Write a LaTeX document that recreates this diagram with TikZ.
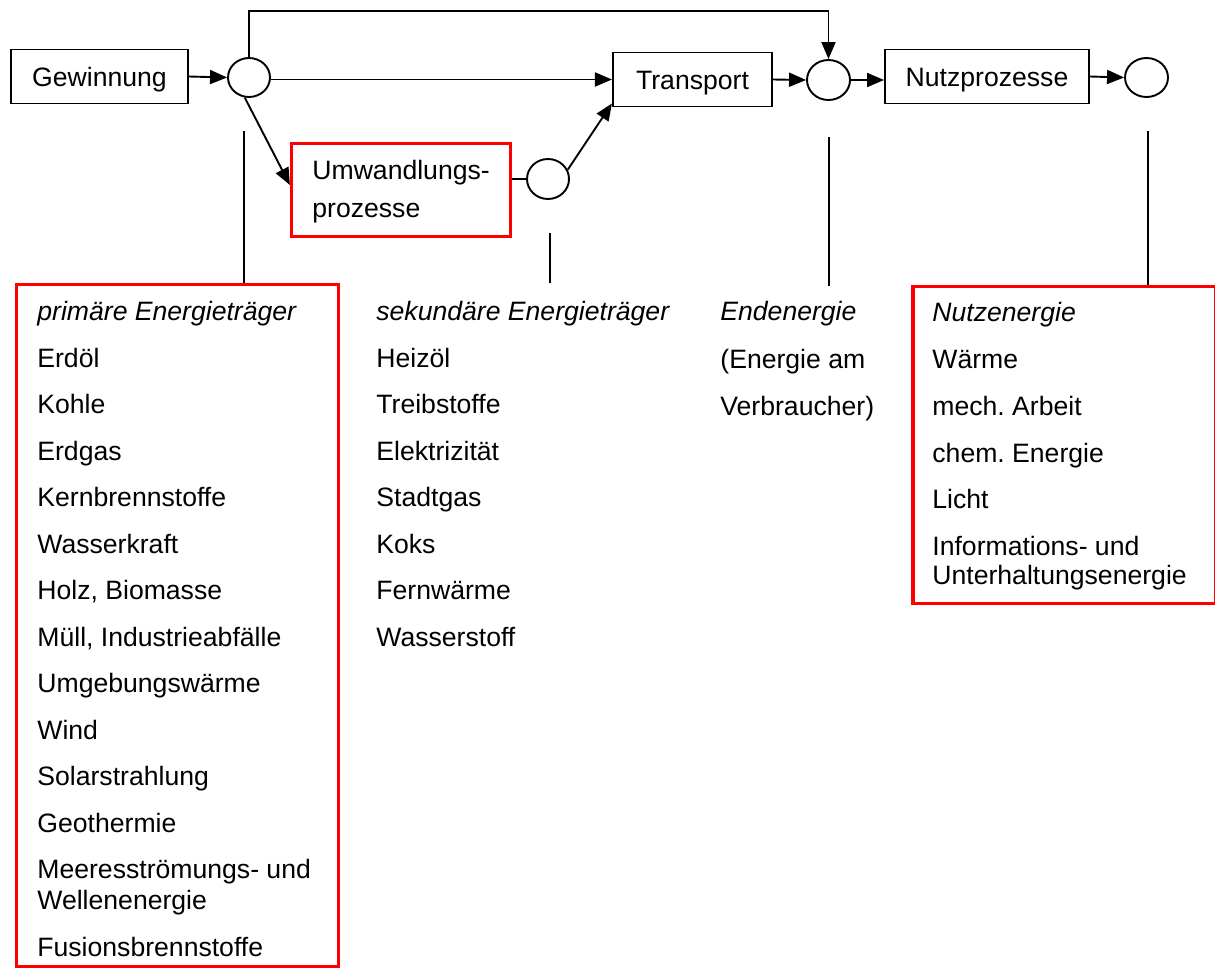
\documentclass[tikz,border=0pt]{standalone}
\usepackage{fontspec}
\setmainfont{Liberation Sans}
\usetikzlibrary{arrows.meta,shapes.geometric}
\frenchspacing
\begin{document}
\begin{tikzpicture}[x=0.5pt,y=-0.5pt,
  every node/.style={font=\fontsize{13.3pt}{16pt}\selectfont, inner sep=0pt},
  blackbox/.style={draw=black, line width=0.95pt, rectangle, text height=9.5pt, text depth=0pt},
  redbox/.style={draw=red, line width=1.7pt, rectangle},
  junction/.style={draw=black, line width=0.95pt, ellipse, minimum width=21pt, minimum height=19.5pt},
  conn/.style={line width=0.95pt},
  arr/.style={conn, -{Triangle[length=8.5pt,width=7pt]}},
  listtext/.style={anchor=base west},
  head/.style={anchor=base west, font=\fontsize{13.3pt}{16pt}\selectfont\itshape}
]
\useasboundingbox (0,0) rectangle (1215,969);

% process chain
\node[blackbox, minimum width=88.6pt, minimum height=27pt] (gew) at (99.5,76.5) {Gewinnung};
\node[junction] (c1) at (249,77.5) {};
\node[blackbox, minimum width=79.6pt, minimum height=27pt] (tr) at (692.5,79.5) {Transport};
\node[junction, minimum width=21.5pt, minimum height=20pt] (c3) at (828.5,80) {};
\node[blackbox, minimum width=102pt, minimum height=27pt] (nutz) at (987,76.5) {Nutzprozesse};
\node[junction, minimum width=21.5pt] (c4) at (1146.5,77.5) {};
\node[redbox, minimum width=109.4pt, minimum height=46.4pt] (umw) at (401,190) {};
\node[listtext] (umw1) at (312,179) {Umwandlungs-};
\node[listtext] (umw2) at (312,217) {prozesse};
\node[junction, minimum height=20pt] (c2) at (548,179) {};

\coordinate (top) at (0,11);
\draw[arr] (gew.east) -- (c1.west);
\draw[arr] (c1.north) -- (c1.north |- top) -| (c3.north);
\draw[arr] (c1.east |- tr.west) -- (tr.west);
\draw[arr] (c1.258) -- ([yshift=2.5pt]umw.west);
\draw[conn] (c2.west -| umw.east) -- (c2.west);
\draw[arr] (c2.25) -- ([yshift=2pt]tr.south west);
\draw[arr] (tr.east) -- (c3.west);
\draw[arr] (c3.east) -- (c3.east -| nutz.west);
\draw[arr] (nutz.east) -- (c4.west);

% red list boxes
\node[redbox, minimum width=160.9pt, minimum height=340.9pt] (prim) at (177.5,625.5) {};
\node[redbox, minimum width=151.2pt, minimum height=158.4pt] (nutzE) at (1064,445) {};

% vertical lines
\coordinate (v1) at (244,131);
\draw[conn] (v1) -- (v1 |- prim.north);
\coordinate (v2a) at (550,233);
\coordinate (v2b) at (550,283);
\draw[conn] (v2a) -- (v2b);
\coordinate (v3a) at (829,137);
\coordinate (v3b) at (829,286);
\draw[conn] (v3a) -- (v3b);
\coordinate (v4) at (1148,131);
\draw[conn] (v4) -- (v4 |- nutzE.north);

% primary
\node[head] (ph) at (37,320) {primäre Energieträger};
\node[listtext] (p0) at (37,367) {Erdöl};
\node[listtext] (p1) at (37,413.5) {Kohle};
\node[listtext] (p2) at (37,460) {Erdgas};
\node[listtext] (p3) at (37,506.5) {Kernbrennstoffe};
\node[listtext] (p4) at (37,553) {Wasserkraft};
\node[listtext] (p5) at (37,599.5) {Holz, Biomasse};
\node[listtext] (p6) at (37,646) {Müll, Industrieabfälle};
\node[listtext] (p7) at (37,692.5) {Umgebungswärme};
\node[listtext] (p8) at (37,739) {Wind};
\node[listtext] (p9) at (37,785.5) {Solarstrahlung};
\node[listtext] (p10) at (37,832) {Geothermie};
\node[listtext] (p11) at (37,878.5) {Meeresströmungs- und};
\node[listtext] (p11b) at (37,909.5) {Wellenenergie};
\node[listtext] (p12) at (37,956) {Fusionsbrennstoffe};

% secondary
\node[head] (sh) at (376,320) {sekundäre Energieträger};
\node[listtext] (s0) at (376,367) {Heizöl};
\node[listtext] (s1) at (376,413.5) {Treibstoffe};
\node[listtext] (s2) at (376,460) {Elektrizität};
\node[listtext] (s3) at (376,506.5) {Stadtgas};
\node[listtext] (s4) at (376,553) {Koks};
\node[listtext] (s5) at (376,599.5) {Fernwärme};
\node[listtext] (s6) at (376,646) {Wasserstoff};

% final energy
\node[head] (eh) at (720,320) {Endenergie};
\node[listtext] (e0) at (720,368) {(Energie am};
\node[listtext] (e1) at (720,415) {Verbraucher)};

% useful energy
\node[head] (nh) at (932,321) {Nutzenergie};
\node[listtext] (n0) at (932,368) {Wärme};
\node[listtext] (n1) at (932,415) {mech. Arbeit};
\node[listtext] (n2) at (932,462) {chem. Energie};
\node[listtext] (n3) at (932,508) {Licht};
\node[listtext] (n4) at (932,555) {Informations- und};
\node[listtext] (n4b) at (932,584) {Unterhaltungsenergie};
\end{tikzpicture}
\end{document}
